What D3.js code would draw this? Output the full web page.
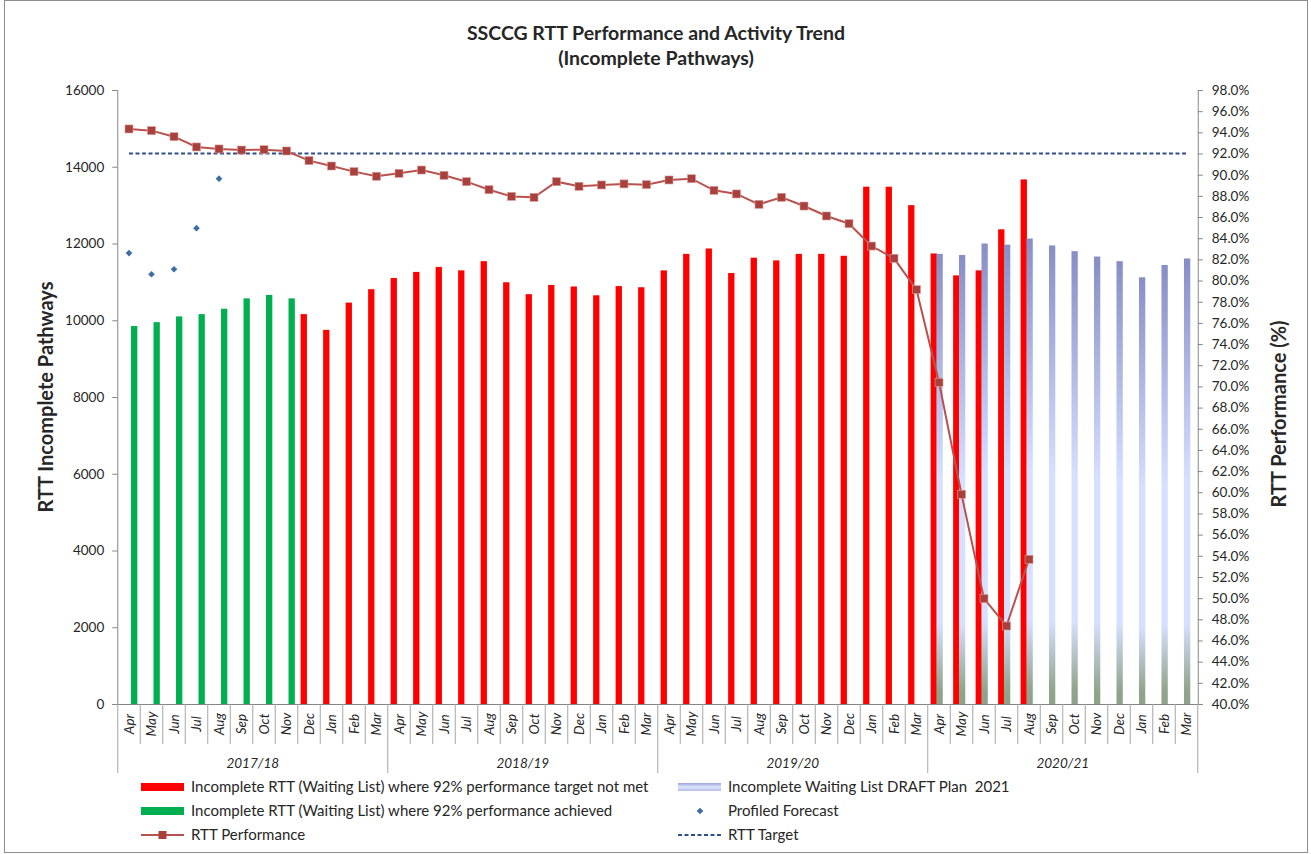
<!DOCTYPE html>
<html><head><meta charset="utf-8">
<script src="https://cdn.jsdelivr.net/npm/d3@7"></script>
<style>
body{margin:0;background:#fff;}
svg{display:block;}
text{font-family:Lato,"Open Sans",sans-serif;fill:#262626;}
</style>
</head><body>
<svg id="c" width="1311" height="854"></svg>
<script>
// ---------- DATA ----------
const monthNames = ["Apr","May","Jun","Jul","Aug","Sep","Oct","Nov","Dec","Jan","Feb","Mar"];
const years = ["2017/18","2018/19","2019/20","2020/21"];
// Incomplete RTT waiting list, Apr 2017 - Aug 2020
const waitingList = [
  9850, 9950, 10100, 10160, 10300, 10570, 10660, 10570, 10160, 9750, 10460, 10810,
  11100, 11260, 11390, 11300, 11540, 10990, 10680, 10920, 10880, 10650, 10890, 10860,
  11300, 11730, 11870, 11230, 11630, 11560, 11730, 11730, 11680, 13480, 13480, 13000,
  11740, 11170, 11300, 12370, 13670
];
// RTT performance %, Apr 2017 - Aug 2020
const performance = [
  94.32, 94.16, 93.59, 92.62, 92.43, 92.33, 92.36, 92.24, 91.33, 90.82, 90.29, 89.85,
  90.13, 90.44, 89.94, 89.34, 88.58, 87.95, 87.86, 89.34, 88.90, 89.03, 89.13, 89.06,
  89.50, 89.62, 88.52, 88.18, 87.20, 87.86, 87.04, 86.10, 85.37, 83.26, 82.10, 79.14,
  70.39, 59.81, 49.95, 47.37, 53.67
];
// Draft plan 2021, Apr 2020 - Mar 2021
const planStartIndex = 36;
const plan2021 = [11730, 11700, 12000, 11970, 12130, 11950, 11800, 11660, 11540, 11120, 11440, 11610];
// Profiled forecast, Apr 2017 - Aug 2017
const forecast = [11750, 11200, 11330, 12400, 13690];
const rttTarget = 92;
const leftTicks = [0,2000,4000,6000,8000,10000,12000,14000,16000];
const rightTicks = d3.range(40, 98.001, 2);

const categories = [];
years.forEach(y => monthNames.forEach(m => categories.push({year:y, month:m})));

// ---------- LAYOUT ----------
const svg = d3.select("#c");
const L = 117.75, R = 1197.75, T = 90, B = 704;
const x = d3.scaleBand().domain(d3.range(categories.length)).range([L, R]).padding(0);
const bw = x.bandwidth();
const cx = i => x(i) + bw/2;
const yL = d3.scaleLinear().domain([0,16000]).range([B, T]);
const yR = d3.scaleLinear().domain([40,98]).range([B, T]);
const axisColor = "#868686";

// outer frame
svg.append("rect").attr("x",4.5).attr("y",0.5).attr("width",1303).attr("height",852)
  .attr("fill","none").attr("stroke","#8c8c8c").attr("stroke-width",1);

// gradient defs
const defs = svg.append("defs");
const g1 = defs.append("linearGradient").attr("id","planGrad").attr("x1",0).attr("y1",0).attr("x2",0).attr("y2",1);
[[0,"#878ec6"],[0.5,"#d6e0ff"],[0.82,"#d6e0ff"],[0.97,"#90a48c"],[1,"#8fa38a"]].forEach(s=>g1.append("stop").attr("offset",s[0]).attr("stop-color",s[1]));
const g2 = defs.append("linearGradient").attr("id","legGrad").attr("x1",0).attr("y1",0).attr("x2",0).attr("y2",1);
[[0,"#9aa2d8"],[0.5,"#dfe6ff"],[1,"#b3bae6"]].forEach(s=>g2.append("stop").attr("offset",s[0]).attr("stop-color",s[1]));

// title
svg.append("text").attr("x",656).attr("y",40).attr("text-anchor","middle")
  .style("font-size","19.5px").style("font-weight","bold").text("SSCCG RTT Performance and Activity Trend");
svg.append("text").attr("x",656).attr("y",65).attr("text-anchor","middle")
  .style("font-size","19.5px").style("font-weight","bold").text("(Incomplete Pathways)");

// ---------- AXES ----------
const leftAxis = d3.axisLeft(yL).tickValues(leftTicks).tickSize(5).tickPadding(8).tickFormat(d3.format("d"));
const gl = svg.append("g").attr("transform",`translate(${L-0.5},0)`).call(leftAxis);
const rightAxis = d3.axisRight(yR).tickValues(rightTicks).tickSize(5).tickPadding(9).tickFormat(d => d3.format(".1%")(d/100));
const gr = svg.append("g").attr("transform",`translate(${R},0)`).call(rightAxis);
[gl,gr].forEach(g=>{
  g.select(".domain").attr("stroke",axisColor);
  g.selectAll(".tick line").attr("stroke",axisColor);
  g.selectAll(".tick text").style("font-size","13.5px").style("font-family","Lato, sans-serif").attr("fill","#404040");
});

// axis titles
svg.append("text").attr("transform","translate(53,397) rotate(-90)").attr("text-anchor","middle")
  .style("font-size","20px").style("font-weight","bold").text("RTT Incomplete Pathways");
svg.append("text").attr("transform","translate(1286,414) rotate(-90)").attr("text-anchor","middle")
  .style("font-size","20px").style("font-weight","bold").text("RTT Performance (%)");

// category axis
const gx = svg.append("g");
gx.append("line").attr("x1",L).attr("x2",R).attr("y1",B+0.5).attr("y2",B+0.5).attr("stroke",axisColor);
d3.range(categories.length+1).forEach(i=>{
  const xx = (i < categories.length ? x(i) : R);
  const yearEdge = i % 12 === 0;
  gx.append("line").attr("x1",xx).attr("x2",xx).attr("y1",B).attr("y2",yearEdge?773:744)
    .attr("stroke","#a6a6a6").attr("stroke-width",1);
});
gx.selectAll("text.m").data(categories).join("text").attr("class","m")
  .attr("transform",(d,i)=>`translate(${cx(i)},724) rotate(-90)`)
  .attr("text-anchor","middle").attr("dy","0.35em")
  .style("font-size","13.5px").style("font-style","italic").attr("fill","#404040")
  .text(d=>d.month);
gx.selectAll("text.y").data(years).join("text").attr("class","y")
  .attr("x",(d,k)=> (x(k*12) + (k*12+12 < categories.length ? x(k*12+12) : R))/2)
  .attr("y",768).attr("text-anchor","middle")
  .style("font-size","13.5px").style("font-style","italic").attr("fill","#404040")
  .text(d=>d);

// ---------- BARS ----------
const barW = 0.28*bw;
const offRed = -0.372*bw, offBlue = -0.112*bw, offGreen = 0.09*bw;
const actual = waitingList.map((v,i)=>({i, v, met: performance[i] >= rttTarget}));
svg.append("g").selectAll("rect").data(actual.filter(d=>!d.met)).join("rect")
  .attr("x",d=>cx(d.i)+offRed).attr("width",barW)
  .attr("y",d=>yL(d.v)).attr("height",d=>B-yL(d.v)).attr("fill","#ff0000");
svg.append("g").selectAll("rect").data(plan2021.map((v,k)=>({i:planStartIndex+k, v}))).join("rect")
  .attr("x",d=>cx(d.i)+offBlue).attr("width",barW)
  .attr("y",d=>yL(d.v)).attr("height",d=>B-yL(d.v)).attr("fill","url(#planGrad)");
svg.append("g").selectAll("rect").data(actual.filter(d=>d.met)).join("rect")
  .attr("x",d=>cx(d.i)+offGreen).attr("width",barW)
  .attr("y",d=>yL(d.v)).attr("height",d=>B-yL(d.v)).attr("fill","#00b050");

// ---------- TARGET ----------
svg.append("line").attr("x1",cx(0)).attr("x2",cx(categories.length-1))
  .attr("y1",yR(rttTarget)).attr("y2",yR(rttTarget))
  .attr("stroke","#2f4f8a").attr("stroke-width",1.8).attr("stroke-dasharray","4,2.5");

// ---------- FORECAST ----------
svg.append("g").selectAll("path").data(forecast).join("path")
  .attr("transform",(d,i)=>`translate(${cx(i)},${yL(d)})`)
  .attr("d",d3.symbol(d3.symbolDiamond2, 28)).attr("fill","#3d6ca8");

// ---------- PERFORMANCE LINE ----------
const line = d3.line().x((d,i)=>cx(i)).y(d=>yR(d));
svg.append("path").datum(performance).attr("d",line).attr("fill","none")
  .attr("stroke","#b9524e").attr("stroke-width",2);
svg.append("g").selectAll("rect").data(performance).join("rect")
  .attr("x",(d,i)=>cx(i)-4).attr("y",d=>yR(d)-4).attr("width",8).attr("height",8)
  .attr("fill","#a9403c").attr("stroke","#d79a98").attr("stroke-width",0.6);

// ---------- LEGEND ----------
const lg = svg.append("g").style("font-size","15px");
const legendItems = [
  {x:141, y:787, type:"bar", color:"#ff0000", label:"Incomplete RTT (Waiting List) where 92% performance target not met"},
  {x:141, y:811, type:"bar", color:"#00b050", label:"Incomplete RTT (Waiting List) where 92% performance achieved"},
  {x:141, y:835, type:"perf", label:"RTT Performance"},
  {x:678, y:787, type:"bar", color:"url(#legGrad)", label:"Incomplete Waiting List DRAFT Plan  2021"},
  {x:678, y:811, type:"diamond", label:"Profiled Forecast"},
  {x:678, y:835, type:"dash", label:"RTT Target"}
];
legendItems.forEach(it=>{
  if(it.type==="bar") lg.append("rect").attr("x",it.x).attr("y",it.y-4).attr("width",43).attr("height",8).attr("fill",it.color);
  if(it.type==="perf"){
    lg.append("line").attr("x1",it.x).attr("x2",it.x+43).attr("y1",it.y).attr("y2",it.y).attr("stroke","#b9524e").attr("stroke-width",2);
    lg.append("rect").attr("x",it.x+17.5).attr("y",it.y-4).attr("width",8).attr("height",8).attr("fill","#a9403c");
  }
  if(it.type==="diamond") lg.append("path").attr("transform",`translate(${it.x+22},${it.y})`).attr("d",d3.symbol(d3.symbolDiamond2,28)).attr("fill","#3d6ca8");
  if(it.type==="dash") lg.append("line").attr("x1",it.x).attr("x2",it.x+43).attr("y1",it.y).attr("y2",it.y).attr("stroke","#2f4f8a").attr("stroke-width",1.8).attr("stroke-dasharray","4,2.5");
  lg.append("text").attr("x",it.x+50).attr("y",it.y).attr("dy","0.35em").style("white-space","pre").text(it.label);
});
</script>
</body></html>
